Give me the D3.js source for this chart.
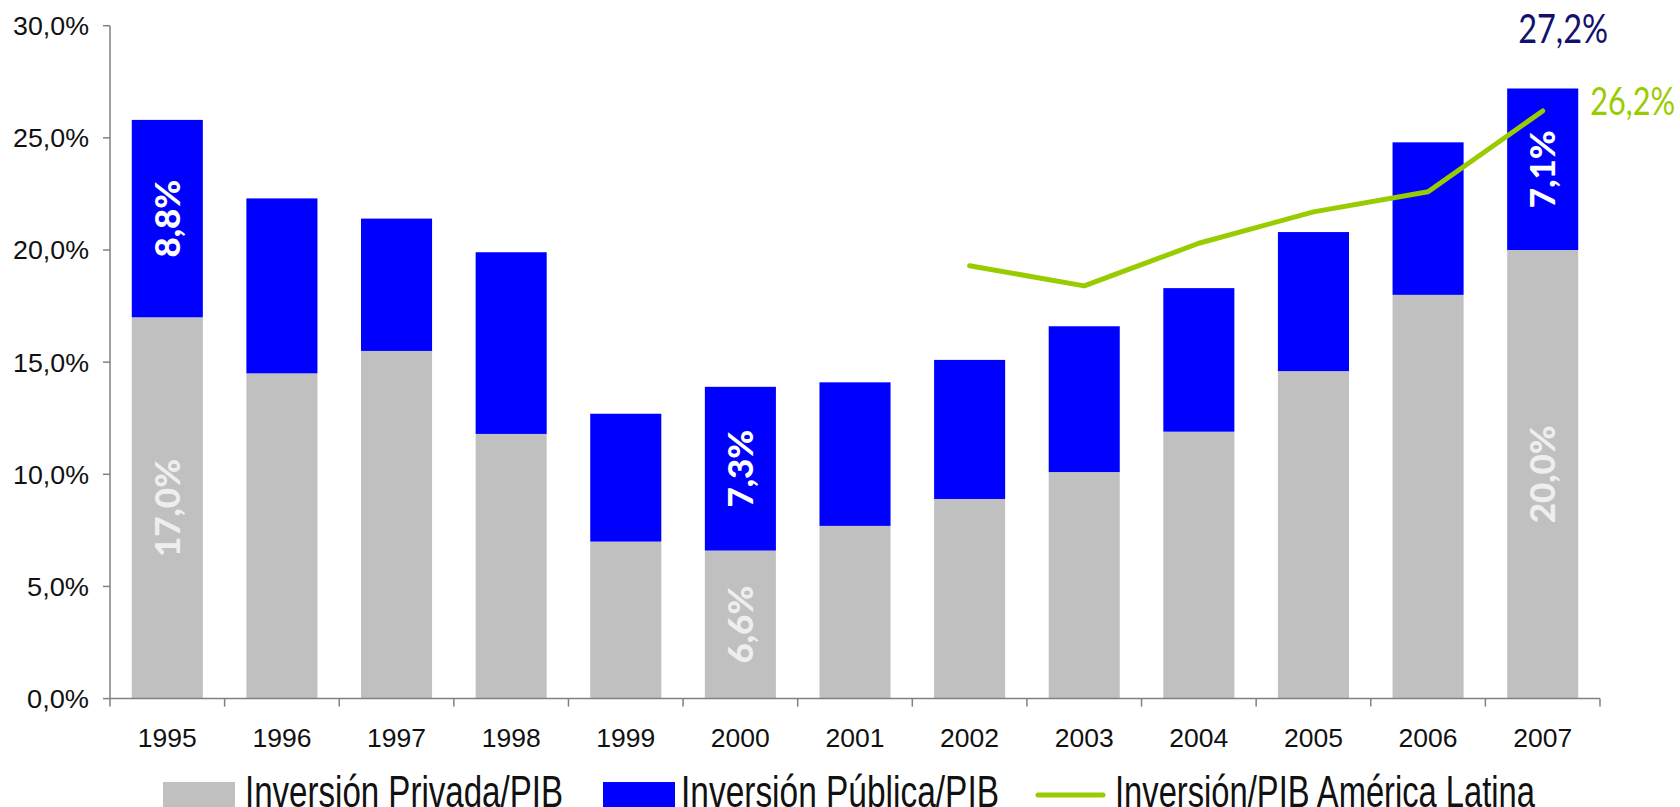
<!DOCTYPE html>
<html>
<head>
<meta charset="utf-8">
<script src="https://cdn.jsdelivr.net/npm/d3@7"></script>
<style>
  body { margin: 0; background: #fff; }
  svg { display: block; }
</style>
</head>
<body>
<svg width="1680" height="807"></svg>
<script>
const width = 1680;
const height = 807;

// data
const years = ["1995", "1996", "1997", "1998", "1999", "2000", "2001", "2002", "2003", "2004", "2005", "2006", "2007"];
const privada = [17.0, 14.5, 15.5, 11.8, 7.0, 6.6, 7.7, 8.9, 10.1, 11.9, 14.6, 18.0, 20.0];
const publica = [8.8, 7.8, 5.9, 8.1, 5.7, 7.3, 6.4, 6.2, 6.5, 6.4, 6.2, 6.8, 7.2];
const latamYears = ["2002", "2003", "2004", "2005", "2006", "2007"];
const latam = [19.3, 18.4, 20.3, 21.7, 22.6, 26.2];
const yTicks = [0, 5, 10, 15, 20, 25, 30];

// labels written inside bars: [year, series, text]
const barLabels = [
  ["1995", "publica", "8,8%"],
  ["1995", "privada", "17,0%"],
  ["2000", "publica", "7,3%"],
  ["2000", "privada", "6,6%"],
  ["2007", "publica", "7,1%"],
  ["2007", "privada", "20,0%"]
];
const totalLabel = "27,2%";
const latamLabel = "26,2%";

const seriesNames = ["Inversión Privada/PIB", "Inversión Pública/PIB", "Inversión/PIB América Latina"];

const grayCol = "#c0c0c0";
const blueCol = "#0000ff";
const greenCol = "#99cc00";
const navyCol = "#12126e";
const axisCol = "#808080";

let plotLeft = 110
let plotRight = 1600
let plotTop = 25.7
let plotBottom = 698.6

let svg = d3.select("svg")

const x = d3.scaleBand()
  .domain(years)
  .range([plotLeft, plotRight])
  .paddingInner(0.38)
  .paddingOuter(0.19)

const y = d3.scaleLinear()
  .domain([0, 30])
  .range([plotBottom, plotTop])

const rows = years.map((yr, i) => ({year: yr, privada: privada[i], publica: publica[i]}))

// bars
svg.append("g").selectAll("rect")
  .data(rows)
  .enter()
  .append("rect")
    .attr("x", d => x(d.year))
    .attr("y", d => y(d.privada))
    .attr("width", x.bandwidth())
    .attr("height", d => y(0) - y(d.privada))
    .attr("fill", grayCol)

svg.append("g").selectAll("rect")
  .data(rows)
  .enter()
  .append("rect")
    .attr("x", d => x(d.year))
    .attr("y", d => y(d.privada + d.publica))
    .attr("width", x.bandwidth())
    .attr("height", d => y(d.privada) - y(d.privada + d.publica))
    .attr("fill", blueCol)

// labels inside bars
barLabels.forEach(([yr, series, txt]) => {
  let r = rows.find(d => d.year === yr)
  let lo = series === "privada" ? 0 : r.privada
  let hi = series === "privada" ? r.privada : r.privada + r.publica
  let cx = x(yr) + x.bandwidth() / 2
  let cy = (y(lo) + y(hi)) / 2
  svg.append("text")
    .attr("transform", `translate(${cx},${cy}) rotate(-90)`)
    .attr("text-anchor", "middle")
    .attr("dy", "0.36em")
    .attr("font-family", "Lato, 'Open Sans', sans-serif")
    .attr("font-weight", "900")
    .attr("font-size", "35px")
    .attr("fill", series === "privada" ? "#eeeeee" : "#ffffff")
    .text(txt)
})

// latin america line
const line = d3.line()
  .x((d, i) => x(latamYears[i]) + x.bandwidth() / 2)
  .y(d => y(d))

svg.append("path")
  .datum(latam)
  .attr("d", line)
  .attr("fill", "none")
  .attr("stroke", greenCol)
  .attr("stroke-width", 5)
  .attr("stroke-linecap", "round")
  .attr("stroke-linejoin", "round")

// annotations
let lastYear = years[years.length - 1]
svg.append("text")
  .attr("x", x(lastYear) + 11)
  .attr("y", 43)
  .attr("font-family", "Lato, sans-serif")
  .attr("font-size", "40px")
  .attr("fill", navyCol)
  .attr("textLength", 90)
  .attr("lengthAdjust", "spacingAndGlyphs")
  .text(totalLabel)

svg.append("text")
  .attr("x", x(lastYear) + x.bandwidth() + 12)
  .attr("y", y(latam[latam.length - 1]) + 4)
  .attr("font-family", "Lato, sans-serif")
  .attr("font-size", "39px")
  .attr("fill", greenCol)
  .attr("textLength", 85)
  .attr("lengthAdjust", "spacingAndGlyphs")
  .text(latamLabel)

// y axis
let yAxis = svg.append("g")
yAxis.append("line")
  .attr("x1", plotLeft).attr("x2", plotLeft)
  .attr("y1", y(30)).attr("y2", y(0))
  .attr("stroke", axisCol).attr("stroke-width", 1.5)

yAxis.selectAll(".ytick")
  .data(yTicks)
  .enter()
  .append("line")
    .attr("x1", plotLeft - 7).attr("x2", plotLeft)
    .attr("y1", d => y(d)).attr("y2", d => y(d))
    .attr("stroke", axisCol).attr("stroke-width", 1.5)

yAxis.selectAll(".ylabel")
  .data(yTicks)
  .enter()
  .append("text")
    .attr("x", 89)
    .attr("y", d => y(d))
    .attr("dy", "0.36em")
    .attr("text-anchor", "end")
    .attr("font-family", "'Liberation Sans', Arial, sans-serif")
    .attr("font-size", "26px")
    .attr("fill", "#111")
    .attr("textLength", d => d >= 10 ? 76 : 62)
    .attr("lengthAdjust", "spacingAndGlyphs")
    .text(d => d.toFixed(1).replace(".", ",") + "%")

// x axis
let xAxis = svg.append("g")
xAxis.append("line")
  .attr("x1", plotLeft).attr("x2", plotRight)
  .attr("y1", y(0)).attr("y2", y(0))
  .attr("stroke", axisCol).attr("stroke-width", 1.5)

xAxis.selectAll(".xtick")
  .data(d3.range(years.length + 1))
  .enter()
  .append("line")
    .attr("x1", i => plotLeft + i * x.step())
    .attr("x2", i => plotLeft + i * x.step())
    .attr("y1", y(0)).attr("y2", y(0) + 8)
    .attr("stroke", axisCol).attr("stroke-width", 1.5)

xAxis.selectAll(".xlabel")
  .data(years)
  .enter()
  .append("text")
    .attr("x", d => x(d) + x.bandwidth() / 2)
    .attr("y", 747)
    .attr("text-anchor", "middle")
    .attr("font-family", "'Liberation Sans', Arial, sans-serif")
    .attr("font-size", "26px")
    .attr("fill", "#111")
    .attr("textLength", 59)
    .attr("lengthAdjust", "spacingAndGlyphs")
    .text(d => d)

// legend
let legend = svg.append("g")
legend.append("rect")
  .attr("x", 163).attr("y", 782).attr("width", 72).attr("height", 30)
  .attr("fill", grayCol)
legend.append("rect")
  .attr("x", 603).attr("y", 782).attr("width", 72).attr("height", 30)
  .attr("fill", blueCol)
legend.append("line")
  .attr("x1", 1038).attr("x2", 1103).attr("y1", 795).attr("y2", 795)
  .attr("stroke", greenCol).attr("stroke-width", 5).attr("stroke-linecap", "round")

const legendText = [[245, 318], [681, 318], [1115, 420]]
legendText.forEach(([lx, len], i) => {
  legend.append("text")
    .attr("x", lx)
    .attr("y", 807)
    .attr("font-family", "'Liberation Sans Narrow', 'Liberation Sans', Arial, sans-serif")
    .attr("font-size", "45px")
    .attr("fill", "#111")
    .attr("textLength", len)
    .attr("lengthAdjust", "spacingAndGlyphs")
    .text(seriesNames[i])
})
</script>
</body>
</html>
